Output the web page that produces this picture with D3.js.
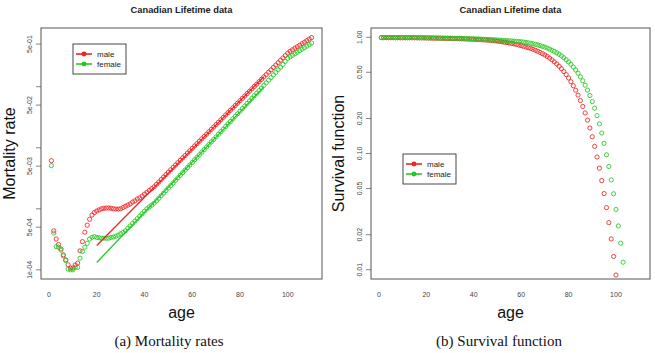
<!DOCTYPE html>
<html><head><meta charset="utf-8">
<script src="https://cdn.jsdelivr.net/npm/d3@7"></script>
<style>
html,body{margin:0;padding:0;background:#fff;}
svg{display:block;font-family:"Liberation Sans",Arial,sans-serif;}
</style></head>
<body><svg id="chart" width="655" height="353"></svg>
<script>
const ages = [1,2,3,4,5,6,7,8,9,10,11,12,13,14,15,16,17,18,19,20,21,22,23,24,25,26,27,28,29,30,
31,32,33,34,35,36,37,38,39,40,41,42,43,44,45,46,47,48,49,50,51,52,53,54,55,56,57,58,59,60,
61,62,63,64,65,66,67,68,69,70,71,72,73,74,75,76,77,78,79,80,81,82,83,84,85,86,87,88,89,90,
91,92,93,94,95,96,97,98,99,100,101,102,103,104,105,106,107,108,109,110];

const maleMortality = [
 6.15e-3, 4.35e-4, 3.2e-4, 2.6e-4, 2.2e-4, 1.76e-4, 1.46e-4, 1.21e-4, 1.07e-4, 1.07e-4,
 1.2e-4, 1.29e-4, 2.05e-4, 2.9e-4, 4.14e-4, 5.4e-4, 6.75e-4, 7.9e-4, 8.7e-4, 9.2e-4,
 9.6e-4, 1.0e-3, 1.02e-3, 1.03e-3, 1.03e-3, 1.02e-3, 1.0e-3, 9.9e-4, 9.9e-4, 1.0e-3,
 1.05e-3, 1.10e-3, 1.15e-3, 1.20e-3, 1.29e-3, 1.35e-3, 1.45e-3, 1.51e-3, 1.62e-3, 1.74e-3,
 1.86e-3, 2.0e-3, 2.14e-3, 2.29e-3, 2.51e-3, 2.75e-3, 3.02e-3, 3.31e-3, 3.63e-3, 3.98e-3,
 4.36e-3, 4.76e-3, 5.21e-3, 5.70e-3, 6.24e-3, 6.82e-3, 7.46e-3, 8.17e-3, 8.93e-3, 9.77e-3,
 0.0107, 0.0117, 0.0128, 0.0140, 0.0153, 0.0167, 0.0183, 0.0200, 0.0219, 0.0240,
 0.0262, 0.0287, 0.0314, 0.0344, 0.0376, 0.0411, 0.0450, 0.0492, 0.0538, 0.0589,
 0.0644, 0.0705, 0.0771, 0.0843, 0.0923, 0.101, 0.110, 0.121, 0.132, 0.145,
 0.158, 0.173, 0.189, 0.207, 0.226, 0.248, 0.271, 0.296, 0.324, 0.355,
 0.380, 0.403, 0.427, 0.452, 0.479, 0.507, 0.537, 0.569, 0.603, 0.638];

const femaleMortality = [
 5.1e-3, 4.0e-4, 2.4e-4, 2.35e-4, 2.1e-4, 1.7e-4, 1.42e-4, 1.03e-4, 1.0e-4, 1.0e-4,
 1.1e-4, 1.1e-4, 1.55e-4, 2.0e-4, 2.35e-4, 2.73e-4, 3.2e-4, 3.4e-4, 3.5e-4, 3.4e-4,
 3.35e-4, 3.3e-4, 3.3e-4, 3.3e-4, 3.3e-4, 3.4e-4, 3.45e-4, 3.55e-4, 3.7e-4, 3.9e-4,
 4.1e-4, 4.35e-4, 4.8e-4, 5.25e-4, 5.75e-4, 6.3e-4, 6.9e-4, 7.6e-4, 8.3e-4, 9.1e-4,
 1.0e-3, 1.07e-3, 1.15e-3, 1.23e-3, 1.35e-3, 1.49e-3, 1.64e-3, 1.80e-3, 1.99e-3, 2.19e-3,
 2.41e-3, 2.65e-3, 2.92e-3, 3.22e-3, 3.55e-3, 3.91e-3, 4.31e-3, 4.74e-3, 5.22e-3, 5.75e-3,
 6.34e-3, 6.98e-3, 7.69e-3, 8.47e-3, 9.33e-3, 0.0103, 0.0113, 0.0125, 0.0137, 0.0151,
 0.0167, 0.0184, 0.0202, 0.0223, 0.0245, 0.0270, 0.0298, 0.0328, 0.0361, 0.0398,
 0.0439, 0.0483, 0.0532, 0.0586, 0.0646, 0.0711, 0.0783, 0.0863, 0.0951, 0.105,
 0.116, 0.128, 0.141, 0.156, 0.172, 0.190, 0.209, 0.231, 0.260, 0.292,
 0.309, 0.327, 0.347, 0.367, 0.389, 0.412, 0.437, 0.462, 0.490, 0.519];

const fitAges = [20, 90];
const maleFit = [2.51e-4, 0.146];
const femaleFit = [1.32e-4, 0.0993];

const maleSurvival = [
 0.993, 0.9926, 0.9923, 0.992, 0.9918, 0.9916, 0.9914, 0.9913, 0.9912, 0.9911,
 0.991, 0.9909, 0.9907, 0.9904, 0.99, 0.9895, 0.9889, 0.9881, 0.9872, 0.9862,
 0.9852, 0.9842, 0.9832, 0.9822, 0.9811, 0.98, 0.9789, 0.9778, 0.9767, 0.9756,
 0.9745, 0.9733, 0.9721, 0.9708, 0.9694, 0.9679, 0.9663, 0.9646, 0.9627, 0.9607,
 0.9585, 0.9561, 0.9535, 0.9507, 0.9476, 0.9443, 0.9403, 0.9355, 0.931, 0.9255,
 0.92, 0.914, 0.9075, 0.9005, 0.893, 0.8855, 0.877, 0.868, 0.858, 0.8475,
 0.836, 0.8253, 0.8137, 0.8012, 0.7877, 0.7732, 0.7578, 0.7411, 0.7233, 0.7043,
 0.684, 0.6625, 0.6397, 0.6156, 0.5902, 0.5636, 0.5358, 0.5069, 0.477, 0.4462,
 0.4146, 0.3826, 0.3502, 0.3178, 0.2857, 0.254, 0.2233, 0.1938, 0.1657, 0.1395,
 0.1152, 0.0933, 0.0748, 0.0585, 0.0452, 0.0342, 0.0254, 0.0184, 0.013, 0.009,
 0.0061, 0.0041, 0.0027, 0.0017, 0.0011, 0.0007, 0.0004, 0.00024, 0.00014, 0.00008];

const femaleSurvival = [
 0.995, 0.9947, 0.9945, 0.9943, 0.9941, 0.994, 0.9939, 0.9938, 0.9937, 0.9936,
 0.9935, 0.9934, 0.9933, 0.9931, 0.9929, 0.9926, 0.9923, 0.9919, 0.9915, 0.991,
 0.9905, 0.9899, 0.9893, 0.9886, 0.9879, 0.9871, 0.9863, 0.9854, 0.9845, 0.9835,
 0.9825, 0.9814, 0.9803, 0.9791, 0.9778, 0.9765, 0.9751, 0.9736, 0.972, 0.9703,
 0.9685, 0.9666, 0.9646, 0.9625, 0.9603, 0.958, 0.9556, 0.9531, 0.9505, 0.9478,
 0.945, 0.9421, 0.9391, 0.936, 0.9328, 0.9295, 0.9261, 0.9226, 0.919, 0.9152,
 0.9105, 0.9033, 0.8959, 0.8879, 0.8781, 0.8693, 0.8589, 0.8474, 0.8354, 0.8215,
 0.8069, 0.791, 0.7739, 0.7554, 0.7356, 0.7144, 0.6917, 0.6674, 0.6416, 0.6143,
 0.5854, 0.5552, 0.5236, 0.4908, 0.4569, 0.4221, 0.3868, 0.351, 0.3154, 0.2801,
 0.2454, 0.2118, 0.1799, 0.15, 0.1224, 0.0975, 0.0773, 0.0593, 0.045, 0.033,
 0.0238, 0.0169, 0.0116, 0.0078, 0.0051, 0.0033, 0.0021, 0.0013, 0.0008, 0.0005];

const xTicks = [0, 20, 40, 60, 80, 100];
const mortTicks = [1e-4, 5e-4, 1e-3, 5e-3, 1e-2, 5e-2, 1e-1, 5e-1];
const mortTickLabels = ["1e-04", "5e-04", "", "5e-03", "", "5e-02", "", "5e-01"];
const survTicks = [0.01, 0.02, 0.05, 0.10, 0.20, 0.50, 1.00];
const survTickLabels = ["0.01", "0.02", "0.05", "0.10", "0.20", "0.50", "1.00"];
const seriesNames = ["male", "female"];
const seriesColors = ["#ee2222", "#22c822"];
const titleText = "Canadian Lifetime data";
const captions = ["(a) Mortality rates", "(b) Survival function"];

const svg = d3.select("#chart");
const axisCol = "#555";

function panel(opt) {
  const g = svg.append("g");
  const x = d3.scaleLinear().domain([-3.36, 114.36]).range([opt.x0, opt.x1]);
  const y = d3.scaleLog().domain(opt.ydom).range([opt.y1, opt.y0]);
  const cid = "clip" + opt.id;
  svg.append("defs").append("clipPath").attr("id", cid)
    .append("rect").attr("x", opt.x0).attr("y", opt.y0)
    .attr("width", opt.x1 - opt.x0).attr("height", opt.y1 - opt.y0);

  // title
  g.append("text").attr("x", (opt.x0 + opt.x1) / 2).attr("y", 12.5)
    .attr("text-anchor", "middle").attr("font-weight", "bold")
    .attr("font-size", 9.3).attr("fill", "#222").text(titleText);

  // x axis labels
  g.selectAll(".xl").data(xTicks).enter().append("text")
    .attr("x", d => x(d)).attr("y", 297).attr("text-anchor", "middle")
    .attr("font-size", 7).attr("fill", "#444").text(d => d);

  // y axis ticks & labels
  g.selectAll(".yt").data(opt.yticks).enter().append("line")
    .attr("x1", opt.x0 - 5).attr("x2", opt.x0).attr("y1", d => y(d)).attr("y2", d => y(d))
    .attr("stroke", "#666").attr("stroke-width", 0.8);
  g.selectAll(".yl").data(opt.yticks).enter().append("text")
    .attr("transform", d => `translate(${opt.x0 - 9},${y(d)}) rotate(-90)`)
    .attr("text-anchor", "middle").attr("font-size", 7).attr("fill", "#444")
    .text((d, i) => opt.ylabels[i]);

  // axis titles
  g.append("text").attr("x", (opt.x0 + opt.x1) / 2).attr("y", 318)
    .attr("text-anchor", "middle").attr("font-size", 16).attr("fill", "#111").text("age");
  g.append("text")
    .attr("transform", `translate(${opt.ytitleX},${(opt.y0 + opt.y1) / 2}) rotate(-90)`)
    .attr("text-anchor", "middle").attr("font-size", 16).attr("fill", "#111").text(opt.ytitle);

  // caption
  g.append("text").attr("x", opt.capX).attr("y", 346).attr("text-anchor", "middle")
    .attr("font-family", "'Liberation Serif','Times New Roman',serif")
    .attr("font-size", 15).attr("fill", "#111").text(opt.caption);

  const pg = g.append("g").attr("clip-path", `url(#${cid})`);
  opt.series.forEach((s, si) => {
    pg.append("g").selectAll("circle").data(s.values).enter().append("circle")
      .attr("cx", (d, i) => x(ages[i])).attr("cy", d => y(d)).attr("r", 2.1)
      .attr("fill", "none").attr("stroke", seriesColors[si]).attr("stroke-width", 0.85);
  });
  if (opt.fits) {
    opt.fits.forEach((f, si) => {
      pg.append("path")
        .datum(f.map((v, i) => [fitAges[i], v]))
        .attr("d", d3.line().x(d => x(d[0])).y(d => y(d[1])))
        .attr("stroke", seriesColors[si]).attr("stroke-width", 1.3).attr("fill", "none");
    });
  }

  // box
  g.append("rect").attr("x", opt.x0).attr("y", opt.y0)
    .attr("width", opt.x1 - opt.x0).attr("height", opt.y1 - opt.y0)
    .attr("fill", "none").attr("stroke", axisCol).attr("stroke-width", 1);

  // legend
  const L = opt.legend;
  const lg = g.append("g");
  lg.append("rect").attr("x", L.x).attr("y", L.y).attr("width", 53).attr("height", 30)
    .attr("fill", "#fff").attr("stroke", "#333").attr("stroke-width", 0.9);
  seriesNames.forEach((n, i) => {
    const yy = L.y + 10 + i * 10;
    lg.append("line").attr("x1", L.x + 3).attr("x2", L.x + 19).attr("y1", yy).attr("y2", yy)
      .attr("stroke", seriesColors[i]).attr("stroke-width", 1.6);
    lg.append("circle").attr("cx", L.x + 11).attr("cy", yy).attr("r", 2.4)
      .attr("fill", seriesColors[i]);
    lg.append("text").attr("x", L.x + 24).attr("y", yy + 2.8).attr("font-size", 8)
      .attr("fill", "#222").text(n);
  });
}

panel({
  id: "a", x0: 41, x1: 322, y0: 28, y1: 279,
  ydom: [Math.pow(10, -4.15), Math.pow(10, -0.038)],
  yticks: mortTicks, ylabels: mortTickLabels,
  ytitle: "Mortality rate", ytitleX: 14.5,
  caption: captions[0], capX: 169,
  series: [{values: maleMortality}, {values: femaleMortality}],
  fits: [maleFit, femaleFit],
  legend: {x: 73, y: 44}
});
panel({
  id: "b", x0: 371, x1: 650, y0: 28, y1: 279,
  ydom: [Math.pow(10, -2.08), Math.pow(10, 0.08)],
  yticks: survTicks, ylabels: survTickLabels,
  ytitle: "Survival function", ytitleX: 344,
  caption: captions[1], capX: 499,
  series: [{values: maleSurvival}, {values: femaleSurvival}],
  fits: null,
  legend: {x: 403, y: 154}
});
</script></body></html>
